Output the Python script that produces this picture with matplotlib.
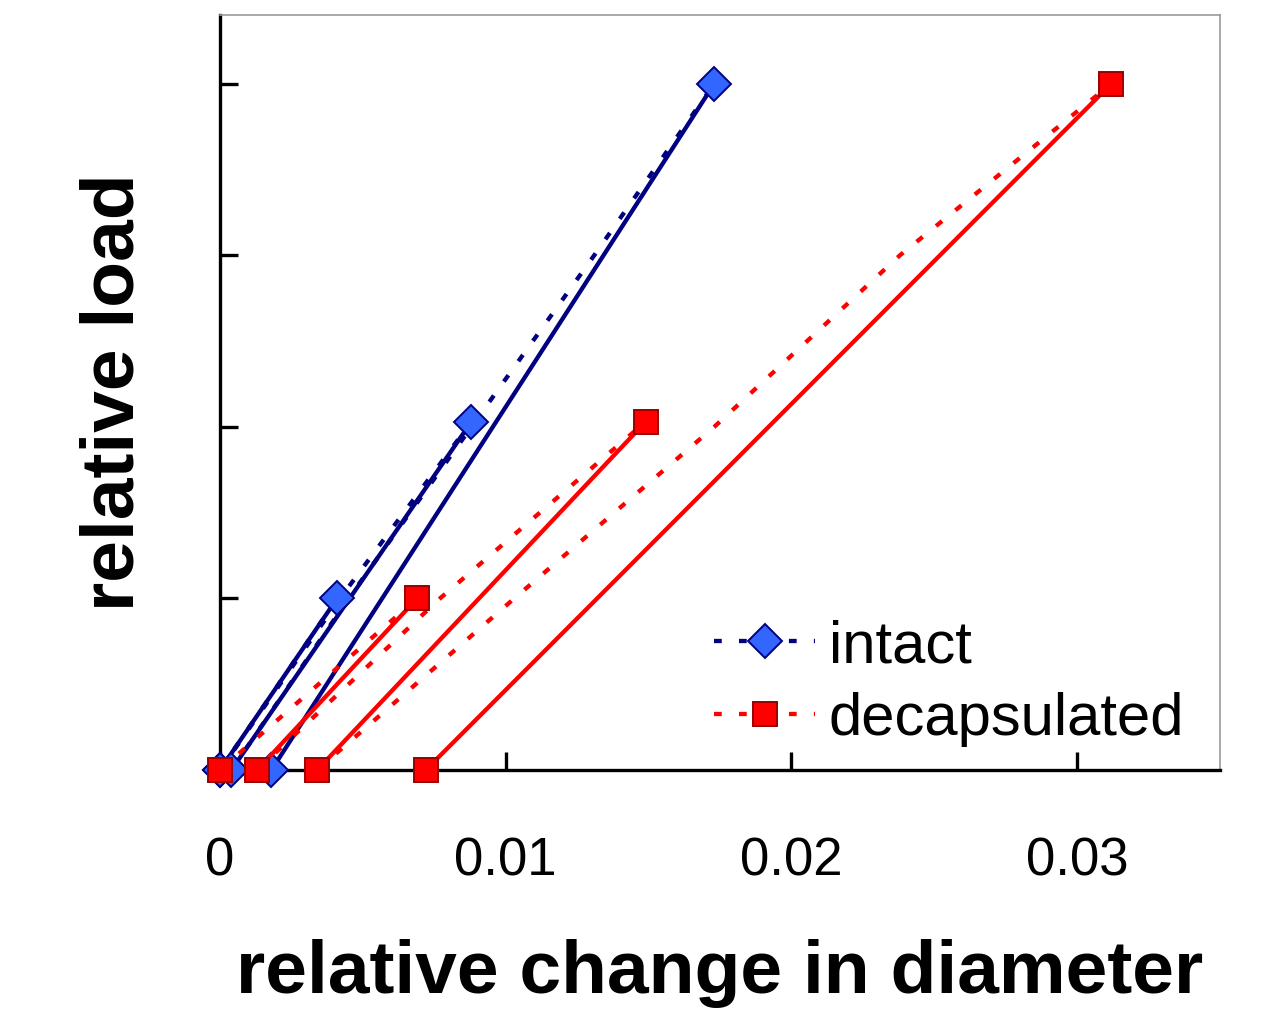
import matplotlib
matplotlib.use('Agg')
import matplotlib.pyplot as plt
from matplotlib.lines import Line2D

plt.rcParams['font.family'] = ['Liberation Sans', 'DejaVu Sans']

# intact: loading paths (dashed) and unloading lines (solid)
intact_load_x = [
    [0.0, 0.0041],
    [0.0, 0.0042, 0.0088],
    [0.0004, 0.0045, 0.0088, 0.0131, 0.0173],
]
intact_load_y = [
    [0, 1.0],
    [0, 1.0, 2.03],
    [0, 1.0, 2.0, 3.0, 4.0],
]
intact_peak_x = [0.0041, 0.0088, 0.0173]
intact_peak_y = [1.0, 2.03, 4.0]
intact_zero_x = [0.0, 0.0, 0.0004, 0.0018]

# decapsulated
decap_load_x = [
    [0.0, 0.0069],
    [0.0013, 0.0077, 0.0149],
    [0.0034, 0.0103, 0.0173, 0.0238, 0.0312],
]
decap_load_y = [
    [0, 1.0],
    [0, 1.0, 2.03],
    [0, 1.0, 2.0, 3.0, 4.0],
]
decap_peak_x = [0.0069, 0.0149, 0.0312]
decap_peak_y = [1.0, 2.03, 4.0]
decap_zero_x = [0.0, 0.0013, 0.0034, 0.0072]

x_ticks = [0, 0.01, 0.02, 0.03]
x_ticklabels = ['0', '0.01', '0.02', '0.03']
y_ticks = [0, 1, 2, 3, 4]

BLUE_LINE = '#000080'
BLUE_FACE = '#3366ff'
RED_LINE = '#ff0000'
RED_EDGE = '#990000'
DASH = (0, (1.8, 4.0))
LW = 3.1


def draw_series(ax, load_x, load_y, peak_x, peak_y, zero_x, color, face, edge, marker, ms, z):
    for lx, ly in zip(load_x, load_y):
        ax.plot(lx, ly, color=color, lw=LW, linestyle=DASH, zorder=z)
    # unloading: peak of cycle k back to the zero point after it
    for k in range(len(peak_x)):
        ax.plot([peak_x[k], zero_x[k + 1]], [peak_y[k], 0], color=color, lw=LW,
                solid_capstyle='butt', zorder=z)
    ax.plot(zero_x, [0] * len(zero_x), linestyle='none', marker=marker, ms=ms,
            mfc=face, mec=edge, mew=1.4, clip_on=False, zorder=z + 1)
    ax.plot(peak_x, peak_y, linestyle='none', marker=marker, ms=ms,
            mfc=face, mec=edge, mew=1.4, clip_on=False, zorder=z + 1)


fig = plt.figure(figsize=(12.86, 10.13), dpi=100)
ax = fig.add_axes([0.1711, 0.2399, 0.9487 - 0.1711, 0.9852 - 0.2399])

draw_series(ax, intact_load_x, intact_load_y, intact_peak_x, intact_peak_y,
            intact_zero_x, BLUE_LINE, BLUE_FACE, BLUE_LINE, 'D', 17.5, 3)
draw_series(ax, decap_load_x, decap_load_y, decap_peak_x, decap_peak_y,
            decap_zero_x, RED_LINE, RED_LINE, RED_EDGE, 's', 17, 5)

ax.set_xlim(0, 0.035)
ax.set_ylim(0, 4.4)
ax.set_xticks(x_ticks)
ax.set_xticklabels(x_ticklabels)
ax.set_yticks(y_ticks)
ax.set_yticklabels([])
ax.tick_params(axis='x', direction='in', length=13, width=2.4, pad=48, labelsize=38)
ax.tick_params(axis='y', direction='in', length=13, width=2.4)

for side in ['left', 'bottom']:
    ax.spines[side].set_linewidth(2.4)
    ax.spines[side].set_color('black')
for side in ['top', 'right']:
    ax.spines[side].set_linewidth(1.2)
    ax.spines[side].set_color('#999999')

ax.set_xlabel('relative change in diameter', fontsize=54, fontweight='bold', labelpad=38)
ax.set_ylabel('relative load', fontsize=54, fontweight='bold', labelpad=48)

handles = [
    Line2D([], [], color=BLUE_LINE, lw=LW, linestyle=DASH, marker='D', ms=17.5,
           mfc=BLUE_FACE, mec=BLUE_LINE, mew=1.4),
    Line2D([], [], color=RED_LINE, lw=LW, linestyle=DASH, marker='s', ms=17,
           mfc=RED_LINE, mec=RED_EDGE, mew=1.4),
]
ax.legend(handles, ['intact', 'decapsulated'], loc='lower left',
          bbox_to_anchor=(0.452, -0.025), frameon=False, fontsize=43,
          handlelength=1.7, handletextpad=0.22, labelspacing=0.3, borderpad=0.2)

fig.savefig('out.png', dpi=100)
